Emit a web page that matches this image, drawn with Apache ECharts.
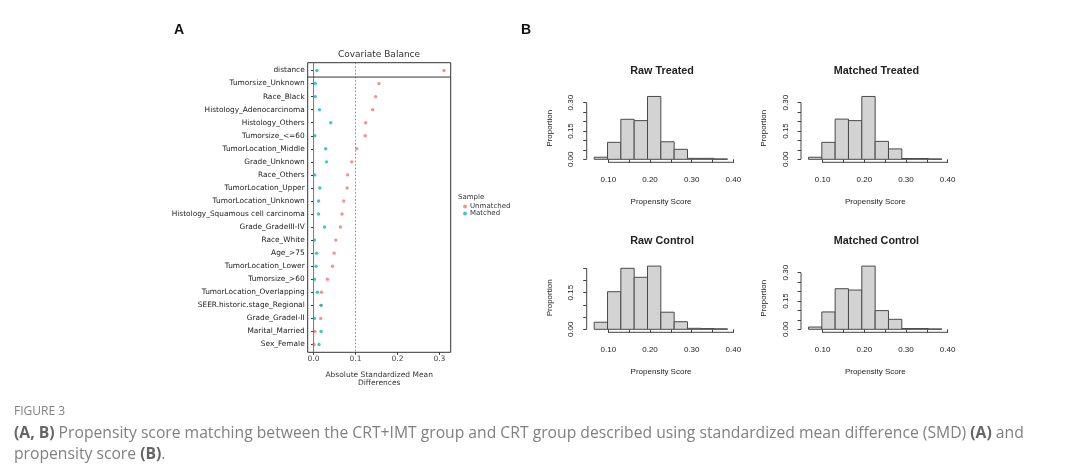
<!DOCTYPE html>
<html>
<head>
<meta charset="utf-8">
<script src="https://cdn.jsdelivr.net/npm/echarts@6/dist/echarts.min.js"></script>
<style>
  html, body { margin: 0; padding: 0; background: #fff; }
  #main { width: 1080px; height: 473px; }
</style>
</head>
<body>
<div id="main"></div>
<script>
// Panel A: covariate balance (absolute SMD)
var covariates = ['distance', 'Tumorsize_Unknown', 'Race_Black', 'Histology_Adenocarcinoma',
  'Histology_Others', 'Tumorsize_<=60', 'TumorLocation_Middle', 'Grade_Unknown', 'Race_Others',
  'TumorLocation_Upper', 'TumorLocation_Unknown', 'Histology_Squamous cell carcinoma',
  'Grade_GradeIII-IV', 'Race_White', 'Age_>75', 'TumorLocation_Lower', 'Tumorsize_>60',
  'TumorLocation_Overlapping', 'SEER.historic.stage_Regional', 'Grade_GradeI-II',
  'Marital_Married', 'Sex_Female'];
var smdUnmatched = [0.311, 0.156, 0.148, 0.141, 0.124, 0.123, 0.103, 0.091, 0.081, 0.080, 0.072,
  0.068, 0.064, 0.053, 0.049, 0.045, 0.033, 0.019, 0.018, 0.017, 0.003, 0.001];
var smdMatched = [0.008, 0.004, 0.004, 0.014, 0.041, 0.003, 0.029, 0.031, 0.003, 0.015, 0.012,
  0.012, 0.026, 0.002, 0.007, 0.006, 0.002, 0.009, 0.018, 0.002, 0.018, 0.013];
var smdTicks = [0, 0.1, 0.2, 0.3];

// Panel B: propensity score histograms (proportion per bin)
var breaks = [0.066, 0.098, 0.130, 0.162, 0.194, 0.226, 0.258, 0.290, 0.322, 0.354, 0.386];
var rawTreated = [0.011, 0.090, 0.212, 0.205, 0.333, 0.093, 0.053, 0.005, 0.005, 0.002];
var matchedTreated = [0.011, 0.090, 0.213, 0.205, 0.333, 0.095, 0.055, 0.004, 0.004, 0.002];
var rawControl = [0.029, 0.154, 0.250, 0.213, 0.259, 0.070, 0.031, 0.004, 0.003, 0.002];
var matchedControl = [0.012, 0.092, 0.215, 0.208, 0.335, 0.099, 0.053, 0.004, 0.004, 0.002];
var psTicks = [0.10, 0.15, 0.20, 0.25, 0.30, 0.35, 0.40];
var psLabels = [0.10, 0.20, 0.30, 0.40];

var RED = '#F8766D', TEAL = '#00BFC4';
var chart = echarts.init(document.getElementById('main'));

// histogram panel layout
var hists = [
  {title: 'Raw Treated', data: rawTreated, left: 586.7, top: 94.2, h: 68.1, ymin: -0.0159, ymax: 0.345,
    yTicks: [0, 0.05, 0.10, 0.15, 0.20, 0.25, 0.30], yLabels: [0, 0.15, 0.30], ty: 72.5},
  {title: 'Matched Treated', data: matchedTreated, left: 801, top: 94.2, h: 68.1, ymin: -0.0159, ymax: 0.345,
    yTicks: [0, 0.05, 0.10, 0.15, 0.20, 0.25, 0.30], yLabels: [0, 0.15, 0.30], ty: 72.5},
  {title: 'Raw Control', data: rawControl, left: 586.7, top: 263.4, h: 68.9, ymin: -0.0123, ymax: 0.27,
    yTicks: [0, 0.05, 0.10, 0.15, 0.20, 0.25], yLabels: [0, 0.15], ty: 242.5},
  {title: 'Matched Control', data: matchedControl, left: 801, top: 264.2, h: 68.1, ymin: -0.0159, ymax: 0.345,
    yTicks: [0, 0.05, 0.10, 0.15, 0.20, 0.25, 0.30], yLabels: [0, 0.15, 0.30], ty: 242.5}
];
var XMIN = 0.048, XMAX = 0.405, HW = 148.7;

var grids = [{left: 307.7, top: 62.7, width: 143, height: 289.6, show: true,
  borderColor: '#333', borderWidth: 1, containLabel: false}];
var xAxes = [{
  gridIndex: 0, type: 'value', min: -0.014, max: 0.327,
  axisLine: {show: false}, splitLine: {show: false},
  axisTick: {show: true, length: 2.5, lineStyle: {color: '#333'}, customValues: smdTicks},
  axisLabel: {fontSize: 7.5, color: '#444', margin: 3, fontFamily: 'DejaVu Sans',
    customValues: smdTicks, formatter: function (v) { return v.toFixed(1); }},
  name: 'Absolute Standardized Mean\nDifferences', nameLocation: 'middle', nameGap: 18,
  nameTextStyle: {fontSize: 7.5, color: '#333', lineHeight: 8.5, fontFamily: 'DejaVu Sans'}
}];
var rowIdx = covariates.map(function (c, i) { return i + 1; });
var yAxes = [{
  gridIndex: 0, type: 'value', inverse: true, min: 0.4, max: covariates.length + 0.6,
  axisLine: {show: false}, splitLine: {show: false},
  axisTick: {show: true, length: 2.5, lineStyle: {color: '#333'}, customValues: rowIdx},
  axisLabel: {fontSize: 7.4, color: '#222', margin: 3, fontFamily: 'DejaVu Sans',
    customValues: rowIdx, formatter: function (v) { return covariates[Math.round(v) - 1] || ''; }}
}];
var series = [
  {name: 'ref0', type: 'line', xAxisIndex: 0, yAxisIndex: 0, symbol: 'none', silent: true,
    data: [[0, 0.4], [0, covariates.length + 0.6]], lineStyle: {color: '#777', width: 1}},
  {name: 'ref1', type: 'line', xAxisIndex: 0, yAxisIndex: 0, symbol: 'none', silent: true,
    data: [[0.1, 0.4], [0.1, covariates.length + 0.6]], lineStyle: {color: '#888', width: 1, type: [1.5, 2]}},
  {name: 'sep', type: 'line', xAxisIndex: 0, yAxisIndex: 0, symbol: 'none', silent: true,
    data: [[-0.014, 1.5], [0.327, 1.5]], lineStyle: {color: '#333', width: 1}},
  {name: 'Unmatched', type: 'scatter', xAxisIndex: 0, yAxisIndex: 0, symbolSize: 3.4,
    itemStyle: {color: RED}, data: smdUnmatched.map(function (v, i) { return [v, i + 1]; })},
  {name: 'Matched', type: 'scatter', xAxisIndex: 0, yAxisIndex: 0, symbolSize: 3.4,
    itemStyle: {color: TEAL}, data: smdMatched.map(function (v, i) { return [v, i + 1]; })}
];
var titles = [{text: 'Covariate Balance', left: 379, top: 50.5, textAlign: 'center', padding: 0,
  textStyle: {fontSize: 9, fontWeight: 'normal', color: '#333', fontFamily: 'DejaVu Sans'}}];

hists.forEach(function (p, k) {
  var g = k + 1;
  grids.push({left: p.left, top: p.top, width: HW, height: p.h});
  xAxes.push({
    gridIndex: g, type: 'value', min: XMIN, max: XMAX,
    axisLine: {show: false}, splitLine: {show: false},
    axisTick: {show: true, length: 3.5, lineStyle: {color: '#444'}, customValues: psTicks},
    axisLabel: {fontSize: 8, color: '#222', margin: 13, fontFamily: 'Liberation Sans',
      customValues: psLabels, formatter: function (v) { return v.toFixed(2); }},
    name: 'Propensity Score', nameLocation: 'middle', nameGap: 35,
    nameTextStyle: {fontSize: 8, color: '#222', fontFamily: 'Liberation Sans'}
  });
  yAxes.push({
    gridIndex: g, type: 'value', min: p.ymin, max: p.ymax,
    axisLine: {show: false}, splitLine: {show: false},
    axisTick: {show: true, length: 3.5, lineStyle: {color: '#444'}, customValues: p.yTicks},
    axisLabel: {fontSize: 8, color: '#222', margin: 11.5, rotate: 90, fontFamily: 'Liberation Sans',
      customValues: p.yLabels, formatter: function (v) { return v.toFixed(2); }},
    name: 'Proportion', nameLocation: 'middle', nameGap: 33,
    nameTextStyle: {fontSize: 8, color: '#222', fontFamily: 'Liberation Sans'}
  });
  var bins = p.data.map(function (h, i) { return [breaks[i], breaks[i + 1], h]; });
  series.push({
    type: 'custom', xAxisIndex: g, yAxisIndex: g, data: bins, clip: false,
    renderItem: function (params, api) {
      var a = api.coord([api.value(0), api.value(2)]);
      var b = api.coord([api.value(1), 0]);
      return {type: 'rect', shape: {x: a[0], y: a[1], width: b[0] - a[0], height: b[1] - a[1]},
        style: {fill: '#d3d3d3', stroke: '#4a4a4a', lineWidth: 1}};
    }
  });
  // R-style axis lines spanning only first to last tick
  series.push({type: 'line', xAxisIndex: g, yAxisIndex: g, symbol: 'none', silent: true, clip: false,
    data: [[psTicks[0], p.ymin], [psTicks[psTicks.length - 1], p.ymin]], lineStyle: {color: '#444', width: 1}});
  series.push({type: 'line', xAxisIndex: g, yAxisIndex: g, symbol: 'none', silent: true, clip: false,
    data: [[XMIN, 0], [XMIN, p.yTicks[p.yTicks.length - 1]]], lineStyle: {color: '#444', width: 1}});
  titles.push({text: p.title, left: p.left + 75.4, top: p.ty - 6.5, textAlign: 'center', padding: 0,
    textStyle: {fontSize: 10.8, fontWeight: 'bold', color: '#222', fontFamily: 'Liberation Sans'}});
});

var capFont = '"Open Sans", "Noto Sans", sans-serif';
var option = {
  animation: false,
  backgroundColor: '#fff',
  title: titles,
  grid: grids,
  xAxis: xAxes,
  yAxis: yAxes,
  legend: {
    data: ['Unmatched', 'Matched'], orient: 'vertical', left: 463, top: 203, padding: 0,
    itemWidth: 4, itemHeight: 4, itemGap: 0, icon: 'circle', selectedMode: false,
    textStyle: {fontSize: 7, color: '#333', padding: [0, 0, 0, -2], lineHeight: 7, fontFamily: 'DejaVu Sans'}
  },
  graphic: [
    {type: 'text', left: 458, top: 194, style: {text: 'Sample', fontSize: 7, fill: '#333', fontFamily: 'DejaVu Sans'}},
    {type: 'text', left: 174, top: 23, style: {text: 'A', fontSize: 14, fontWeight: 'bold', fill: '#111', fontFamily: 'Liberation Sans'}},
    {type: 'text', left: 521, top: 23, style: {text: 'B', fontSize: 14, fontWeight: 'bold', fill: '#111', fontFamily: 'Liberation Sans'}},
    {type: 'text', left: 14, top: 406, style: {text: 'FIGURE 3', fontSize: 12, fill: '#808080', fontFamily: capFont}},
    {type: 'text', left: 14, top: 423, style: {
      text: '{b|(A, B)} Propensity score matching between the CRT+IMT group and CRT group described using standardized mean difference (SMD) {b|(A)} and\npropensity score {b|(B)}.',
      fontSize: 15.7, fill: '#808080', lineHeight: 21, fontFamily: capFont,
      rich: {b: {fontWeight: 'bold', fill: '#666', fontSize: 15.7, fontFamily: capFont}}}}
  ],
  series: series
};
chart.setOption(option);
</script>
</body>
</html>
